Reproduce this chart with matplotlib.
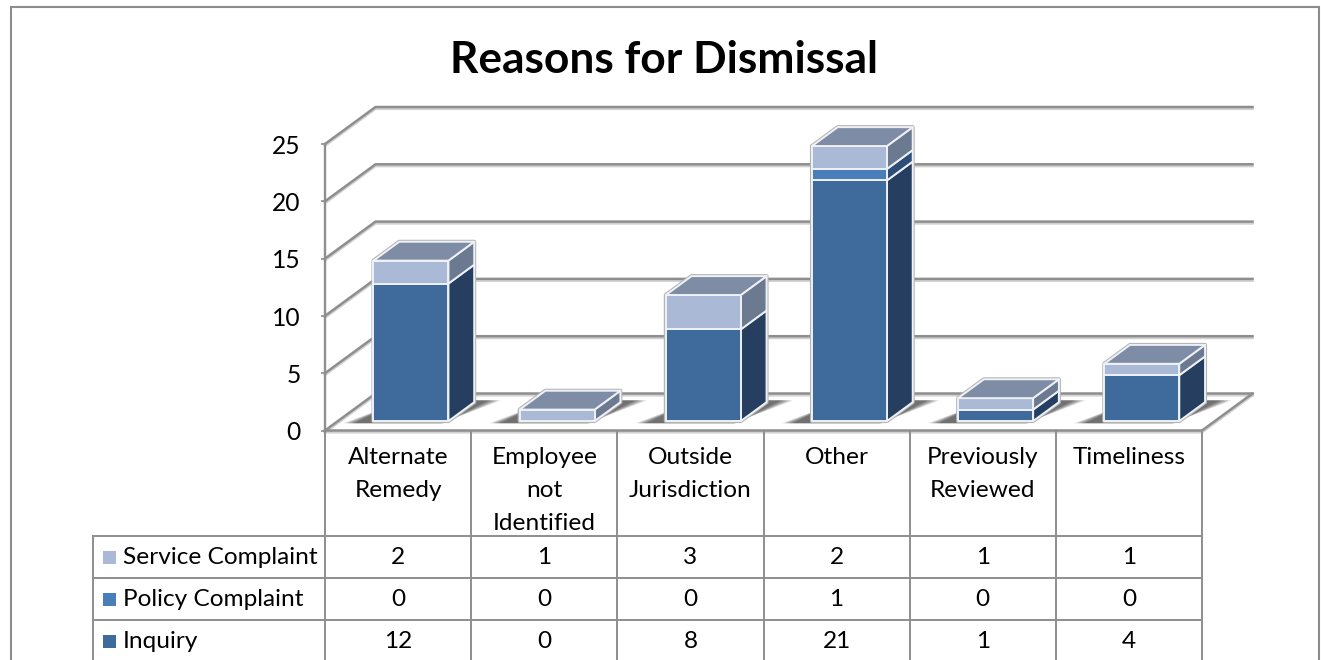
import numpy as np
import matplotlib
matplotlib.use("Agg")
import matplotlib.pyplot as plt
import matplotlib.patheffects as pe
from matplotlib.patches import Polygon, Rectangle
from matplotlib.transforms import blended_transform_factory, ScaledTranslation

plt.rcParams['font.family'] = ['Lato', 'DejaVu Sans']

categories = ["Alternate\nRemedy", "Employee\nnot\nIdentified", "Outside\nJurisdiction",
              "Other", "Previously\nReviewed", "Timeliness"]
service = [2, 1, 3, 2, 1, 1]
policy = [0, 0, 0, 1, 0, 0]
inquiry = [12, 0, 8, 21, 1, 4]
yticks = [0, 5, 10, 15, 20, 25]
title = "Reasons for Dismissal"

stack_order = [
    ("Inquiry", inquiry, "#3F6A9C", "#263F60"),
    ("Policy Complaint", policy, "#4A7EBB", "#2B4D78"),
    ("Service Complaint", service, "#A9B9D6", "#6B7A90"),
]
table_order = [stack_order[2], stack_order[1], stack_order[0]]
top_colour = "#7F8CA5"
grid_colour = "#8E8E8E"

W, H = 1321, 660
fig = plt.figure(figsize=(W / 100, H / 100), dpi=100, facecolor="white")

# pixel overlay for the frame and the table rows
pix = fig.add_axes([0, 0, 1, 1], zorder=0)
pix.set_xlim(0, W)
pix.set_ylim(H, 0)
pix.axis("off")

# value axes: the front plane of the 3-D box
L, R, Y0, Y25 = 325, 1202, 430.5, 144
ax = fig.add_axes([L / W, 1 - Y0 / H, (R - L) / W, (Y0 - Y25) / H], zorder=1)
ax.set_xlim(0, 6)
ax.set_ylim(0, 25)
ax.patch.set_alpha(0)
for s in ("top", "right", "bottom"):
    ax.spines[s].set_visible(False)
ax.spines["left"].set_color(grid_colour)
ax.spines["left"].set_linewidth(1.7)
ax.set_xticks([])
ax.set_yticks(yticks)
ax.tick_params(axis="y", length=3, width=1.2, color=grid_colour, labelsize=17.7, pad=14.5)
for lab in ax.get_yticklabels():
    lab.set_transform(lab.get_transform() + ScaledTranslation(0, -0.3 / 100, fig.dpi_scale_trans))

PXX = (R - L) / 6
PXY = (Y0 - Y25) / 25
BOX_DX, BOX_DY = 50.5, 37.0


def proj(cat, val, depth):
    """category, value, depth (0 front .. 1 back of the box) -> data coordinates"""
    return (cat + depth * BOX_DX / PXX, val + depth * BOX_DY / PXY)


shadow_fx = [pe.SimpleLineShadow(offset=(0, -1.3), shadow_color="#BEBEBE", alpha=0.7),
             pe.Normal()]
for v in yticks:
    pts = [proj(0, v, 0), proj(0, v, 1), proj(6, v, 1)]
    ax.plot(*zip(*pts), color=grid_colour, lw=1.8, clip_on=False, zorder=1,
            solid_joinstyle="round", path_effects=shadow_fx)
pts = [proj(0, 0, 0), proj(6, 0, 0), proj(6, 0, 1)]
ax.plot(*zip(*pts), color=grid_colour, lw=1.8, clip_on=False, zorder=1, path_effects=shadow_fx)

BAR_W = 75 / PXX
D0, D1 = 0.255, 0.765


def poly(points, fc, ec="#EEF1F5", lw=1.4, z=4, **kw):
    ax.add_patch(Polygon(points, closed=True, facecolor=fc, edgecolor=ec, linewidth=lw,
                         clip_on=False, zorder=z, joinstyle="round", **kw))


for i in range(len(categories)):
    x0 = i + 0.5 - BAR_W / 2
    x1 = x0 + BAR_W
    total = sum(s[1][i] for s in stack_order)

    # soft floor shadow: a dark core around the footprint, fading outward
    n = 16
    for k in range(n):
        g = 0.4 + 0.6 * (1 - k / n)
        sp = [proj(x0 - 0.15 * g - 0.04, 0, D0 - 0.06),
              proj(x1 - 0.03 * g, 0, D0 - 0.06),
              proj(x1 + 0.17 * g, 0, D1 + 0.05),
              proj(x0 - 0.03 + 0.05 * g, 0, D1 + 0.05)]
        poly(sp, "#000000", ec="none", lw=0, z=2, alpha=0.048)

    # grey silhouette
    sil = [proj(x0, 0, D0), proj(x1, 0, D0), proj(x1, 0, D1), proj(x1, total, D1),
           proj(x0, total, D1), proj(x0, total, D0)]
    poly(sil, "none", ec="#B4B4B4", lw=2.9, z=3)

    base = 0
    for name, vals, front, side in stack_order:
        v = vals[i]
        if v == 0:
            continue
        poly([proj(x1, base, D0), proj(x1, base, D1), proj(x1, base + v, D1),
              proj(x1, base + v, D0)], side)
        poly([proj(x0, base, D0), proj(x1, base, D0), proj(x1, base + v, D0),
              proj(x0, base + v, D0)], front)
        base += v
    poly([proj(x0, base, D0), proj(x1, base, D0), proj(x1, base, D1), proj(x0, base, D1)],
         top_colour)

# outer frame
pix.add_patch(Rectangle((11, 7), 1308, 700, facecolor="white", edgecolor="#8C8C8C", lw=1.5))

# data table
tr = blended_transform_factory(ax.transData, pix.transData)
ax.text((664.5 - L) / PXX, 60, title, transform=tr, ha="center", va="center", fontsize=31.9,
        fontweight="bold", color="black", clip_on=False)

line_kw = dict(color=grid_colour, lw=1.4, clip_on=False, zorder=6)
TOP, ROWS = 430.5, [536, 578, 620, 662]
for c in range(7):
    ax.plot([c, c], [TOP, 662], transform=tr, **line_kw)
for y in ROWS:
    ax.plot([(93 - L) / PXX, 6], [y, y], transform=tr, **line_kw)
ax.plot([(93 - L) / PXX] * 2, [536, 662], transform=tr, **line_kw)

TXT = 17.6
for c, lab in enumerate(categories):
    ax.text(c + 0.5, 447, lab, transform=tr, ha="center", va="top", fontsize=TXT,
            linespacing=1.7, clip_on=False, zorder=7)
for r, (name, vals, front, side) in enumerate(table_order):
    yc = (ROWS[r] + ROWS[r + 1]) / 2 + 0.5
    ax.add_patch(Rectangle(((103 - L) / PXX, yc - 7), 13 / PXX, 13, transform=tr,
                           facecolor=front, edgecolor="none", clip_on=False, zorder=7))
    ax.text((123 - L) / PXX, yc, name, transform=tr, ha="left", va="center", fontsize=TXT,
            clip_on=False, zorder=7)
    for c, v in enumerate(vals):
        ax.text(c + 0.5, yc, str(v), transform=tr, ha="center", va="center", fontsize=TXT,
                clip_on=False, zorder=7)

fig.savefig("out.png", dpi=100, facecolor="white")
